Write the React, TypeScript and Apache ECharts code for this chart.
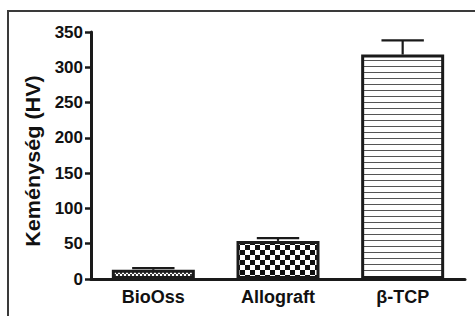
import React, { useEffect, useRef } from "react";
import * as echarts from "echarts";

const categories = ["BioOss", "Allograft", "β-TCP"];
const hardness = [13, 54, 318];
const errors = [2.5, 4, 20];
const yTicks = { min: 0, max: 350, interval: 50 };
const yTitle = "Keménység (HV)";

function makePattern(kind: string): HTMLCanvasElement {
  const c = document.createElement("canvas");
  if (kind === "fine") {
    c.width = 4; c.height = 4;
    const g = c.getContext("2d")!;
    g.fillStyle = "#ffffff"; g.fillRect(0, 0, 4, 4);
    g.fillStyle = "#3a3a3a";
    g.fillRect(0, 0, 2, 2); g.fillRect(2, 2, 2, 2);
  } else if (kind === "checker") {
    c.width = 10; c.height = 10;
    const g = c.getContext("2d")!;
    g.fillStyle = "#ffffff"; g.fillRect(0, 0, 10, 10);
    g.fillStyle = "#111111";
    g.fillRect(0, 0, 5, 5); g.fillRect(5, 5, 5, 5);
  } else {
    c.width = 6; c.height = 6;
    const g = c.getContext("2d")!;
    g.fillStyle = "#ffffff"; g.fillRect(0, 0, 6, 6);
    g.fillStyle = "#555555"; g.fillRect(0, 0, 6, 1);
  }
  return c;
}

export default function App() {
  const ref = useRef<HTMLDivElement>(null);
  useEffect(() => {
    if (!ref.current) return;
    const chart = echarts.init(ref.current, null, { renderer: "svg" });
    const kinds = ["fine", "checker", "lines"];
    const font = "'Liberation Sans', Arial, sans-serif";
    chart.setOption({
      animation: false,
      backgroundColor: "#ffffff",
      grid: { left: 91, right: 10, top: 32, bottom: 37, containLabel: false },
      graphic: [
        {
          type: "rect",
          shape: { x: 8, y: 11, width: 600, height: 400 },
          style: { fill: "none", stroke: "#3a3a3a", lineWidth: 2 },
          silent: true,
        },
        {
          type: "text",
          x: 33,
          y: 161,
          rotation: Math.PI / 2,
          scaleX: 1.08,
          style: {
            text: yTitle,
            font: `bold 20px ${font}`,
            fill: "#111",
            align: "center",
            verticalAlign: "middle",
          },
        },
      ],
      xAxis: {
        type: "category",
        data: categories,
        axisLine: { show: true, lineStyle: { color: "#1a1a1a", width: 3 } },
        axisTick: { show: false },
        axisLabel: { color: "#111", fontWeight: "bold", fontSize: 18, fontFamily: font, margin: 9 },
        splitLine: { show: false },
      },
      yAxis: {
        type: "value",
        min: yTicks.min,
        max: yTicks.max,
        interval: yTicks.interval,
        axisLine: { show: true, lineStyle: { color: "#1a1a1a", width: 3 } },
        axisTick: { show: true, length: 6, lineStyle: { color: "#1a1a1a", width: 2.5 } },
        axisLabel: { color: "#111", fontWeight: "bold", fontSize: 17, fontFamily: font, margin: 8 },
        splitLine: { show: false },
      },
      series: [
        {
          type: "bar",
          barWidth: 83,
          data: hardness.map((v, i) => ({
            value: v,
            itemStyle: {
              color: { image: makePattern(kinds[i]), repeat: "repeat" },
              borderColor: "#1a1a1a",
              borderWidth: 3,
            },
          })),
          z: 2,
        },
        {
          type: "custom",
          z: 3,
          data: hardness.map((v, i) => [i, v, errors[i]]),
          renderItem: (params: any, api: any) => {
            const i = api.value(0);
            const v = api.value(1);
            const e = api.value(2);
            const base = api.coord([i, v]);
            const top = api.coord([i, v + e]);
            const half = api.size([1, 0])[0] * 0.17;
            const style = { stroke: "#1a1a1a", lineWidth: 2.2 };
            return {
              type: "group",
              children: [
                { type: "line", shape: { x1: base[0], y1: base[1], x2: top[0], y2: top[1] }, style },
                { type: "line", shape: { x1: top[0] - half, y1: top[1], x2: top[0] + half, y2: top[1] }, style },
              ],
            };
          },
        },
      ],
    });
    return () => chart.dispose();
  }, []);
  return <div ref={ref} style={{ position: "fixed", left: 0, top: 0, width: 475, height: 316 }} />;
}
